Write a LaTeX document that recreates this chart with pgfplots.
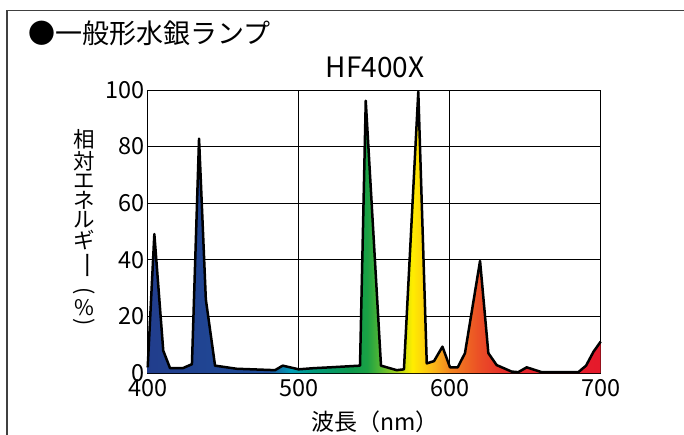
\documentclass[border=0pt]{standalone}
\usepackage{pgfplots}
\pgfplotsset{compat=1.18}
\usepackage{fontspec}
\usepackage{graphicx}
\setmainfont{Noto Sans CJK JP}
\pgfdeclarehorizontalshading{spectrum}{100bp}{rgb(0bp)=(0.13,0.24,0.55); rgb(25bp)=(0.13,0.24,0.55); rgb(38.3bp)=(0.12,0.30,0.60); rgb(40.8bp)=(0.0,0.62,0.72); rgb(43.3bp)=(0.0,0.6,0.48); rgb(47.5bp)=(0.05,0.6,0.3); rgb(49.2bp)=(0.1,0.63,0.27); rgb(51.7bp)=(0.5,0.78,0.15); rgb(54.2bp)=(1,0.93,0); rgb(56.7bp)=(0.98,0.7,0.1); rgb(58.3bp)=(0.95,0.52,0.12); rgb(61.7bp)=(0.92,0.3,0.15); rgb(65bp)=(0.9,0.15,0.17); rgb(75bp)=(0.9,0.1,0.17); rgb(100bp)=(0.9,0.1,0.17)}
\pgfplotstableread{
x y
400 2.0
404.4 49.1
410.3 7.9
414.8 1.7
423.2 1.7
429.3 3.1
434 82.8
438.5 26
444.6 2.6
458.9 1.5
484.3 1.0
489.4 2.6
500 1.3
509.7 1.7
520.7 2.0
540.6 2.6
544.4 96.2
554.5 2.6
564.9 1.0
569.7 1.3
579.2 99.4
584.8 3.4
589.6 4.2
595.2 9.3
600.2 2.0
605.3 2.0
610.1 7.0
620.1 39.6
625.6 7.0
631.1 2.8
641 0.5
645.4 0.3
651 2.0
660.9 0.3
685.2 0.3
690.3 2.6
695.2 7.5
700 11.1
}\spec
\begin{document}
\begin{tikzpicture}
\path[use as bounding box] (0pt,0pt) rectangle (684pt,434pt);
\draw[line width=1.2pt, black!75] (7pt,-5pt) -- (7pt,423.5pt) -- (690pt,423.5pt);
\node[anchor=west, inner sep=0pt, font=\fontsize{27}{27}\selectfont] at (28pt,401pt) {●一般形水銀ランプ};
\node[font=\fontsize{28}{28}\selectfont] at (375pt,367pt) {HF400X};
\begin{scope}[every node/.style={inner sep=0pt, font=\fontsize{21.5}{21.5}\selectfont}]
\node at (84pt,295pt) {相};
\node at (84pt,273pt) {対};
\node at (84pt,253pt) {エ};
\node at (84pt,234pt) {ネ};
\node at (84pt,214pt) {ル};
\node at (84pt,194pt) {ギ};
\node at (84pt,168.2pt) {\rotatebox[origin=c]{-90}{\scalebox{1.3}[1]{ー}}};
\node at (84pt,141.5pt) {\rotatebox[origin=c]{-90}{(}};
\node at (84pt,126pt) {\%};
\node at (84pt,110pt) {\rotatebox[origin=c]{-90}{)}};
\end{scope}
\node[font=\fontsize{23}{23}\selectfont] at (375pt,12.3pt) {波長（nm）};
\begin{axis}[at={(147.7pt,61pt)}, anchor=south west, scale only axis,
  width=453pt, height=283pt,
  xmin=400, xmax=700, ymin=0, ymax=100,
  xtick={400,500,600,700}, ytick={0,20,...,100},
  grid=major, major grid style={black, line width=0.8pt},
  axis line style={line width=0.9pt},
  major tick length=0pt,
  tick label style={font=\fontsize{23.5}{23.5}\selectfont},
  /pgf/number format/assume math mode=true,
  xticklabel style={yshift=-2.5pt},
  clip=false]
\addplot[draw=none, shade, shading=spectrum] table {\spec} \closedcycle;
\addplot[black, line width=2.5pt, line join=round] table {\spec};
\end{axis}
\end{tikzpicture}
\end{document}
